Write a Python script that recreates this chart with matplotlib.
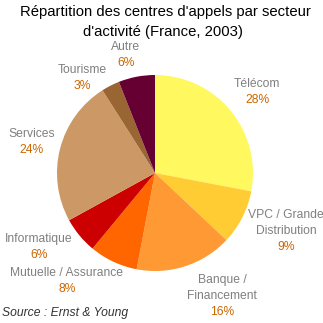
import matplotlib
matplotlib.use("Agg")
import matplotlib.pyplot as plt

# ====================================
# DATA
# ====================================

secteurs = [
    "Télécom",
    "VPC / Grande\nDistribution",
    "Banque /\nFinancement",
    "Mutuelle / Assurance",
    "Informatique",
    "Services",
    "Tourisme",
    "Autre",
]

parts = [28, 9, 16, 8, 6, 24, 3, 6]

couleurs = [
    "#FFF85E",
    "#FFCC33",
    "#FF9933",
    "#FF6600",
    "#CC0000",
    "#CC9966",
    "#996633",
    "#660033",
]

# position (pixels) of the percent line of each label
label_pos = [
    (257, 100),
    (286, 247),
    (222, 312),
    (67, 289),
    (39, 255),
    (32, 150),
    (82, 86),
    (126, 63),
]

# ====================================
# FIGURE
# ====================================

plt.rcParams["font.family"] = ["Liberation Sans", "DejaVu Sans"]

fig = plt.figure(figsize=(3.23, 3.23), dpi=100)
ax = fig.add_axes([0, 0, 1, 1])

ax.pie(
    parts,
    colors=couleurs,
    center=(155, 173),
    radius=98,
    startangle=-90,
    counterclock=True,
    wedgeprops={"linewidth": 0},
)

ax.set_xlim(0, 323)
ax.set_ylim(323, 0)
ax.set_aspect("equal")
ax.axis("off")

# ====================================
# LABELS
# ====================================

for nom, val, (x, y) in zip(secteurs, parts, label_pos):

    ax.text(
        x, y, f"{val}%",
        ha="center", va="center",
        fontsize=8.7, color="#CC6600"
    )

    lignes = nom.split("\n")
    n = len(lignes)

    for i, ligne in enumerate(lignes):
        ax.text(
            x, y - 16 * (n - i), ligne,
            ha="center", va="center",
            fontsize=8.7, color="#808080"
        )

# ====================================
# TITLE / SOURCE
# ====================================

ax.text(
    165, 12, "Répartition des centres d'appels par secteur",
    ha="center", va="center", fontsize=10.7, color="black"
)

ax.text(
    163, 32, "d'activité (France, 2003)",
    ha="center", va="center", fontsize=10.7, color="black"
)

ax.text(
    2, 313, "Source : Ernst & Young",
    ha="left", va="center", fontsize=8.7,
    style="italic", color="#333333"
)

plt.savefig("out.png", dpi=100)
plt.close()
